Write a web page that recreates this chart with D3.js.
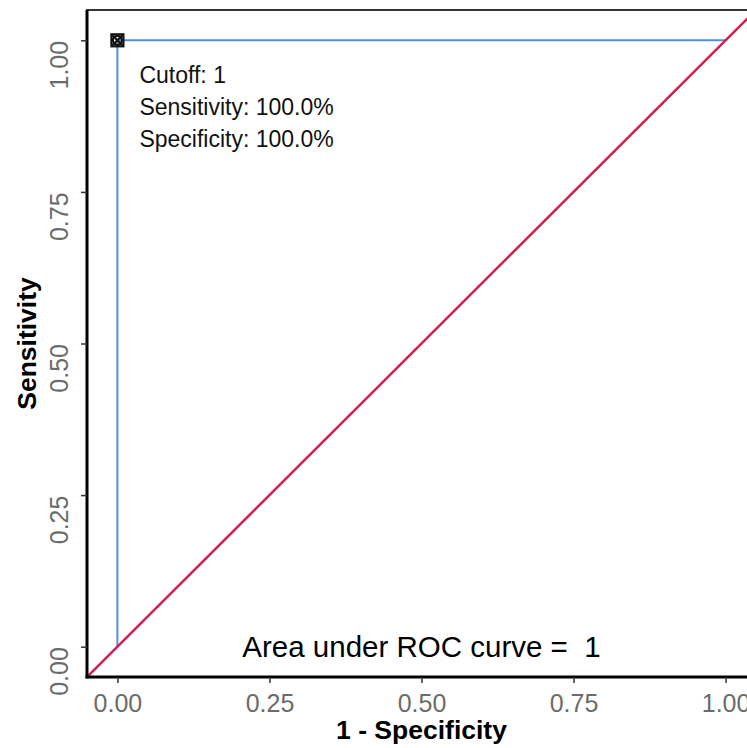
<!DOCTYPE html>
<html>
<head>
<meta charset="utf-8">
<script src="https://cdn.jsdelivr.net/npm/d3@7"></script>
<style>
  body { margin: 0; background: #fff; }
  text { font-family: "Liberation Sans", Arial, sans-serif; white-space: pre; }
  .tickText { fill: #6b6b6b; font-size: 25px; }
  .axisTitle { fill: #000; font-size: 26.5px; font-weight: bold; }
  .annoText { fill: #111; font-size: 23px; }
  .aucText { fill: #000; font-size: 29.5px; }
</style>
</head>
<body>
<div id="chart"></div>
<script>
// Step 1: Data
// ==============================================================================
var rocFpr = [0, 0, 1];          // 1 - Specificity
var rocTpr = [0, 1, 1];          // Sensitivity
var cutoffPoint = [0, 1];        // best cutoff (1 - spec, sens)
var cutoffLabels = ["Cutoff: 1", "Sensitivity: 100.0%", "Specificity: 100.0%"];
var aucLabel = "Area under ROC curve =  1";
var tickValues = [0, 0.25, 0.5, 0.75, 1];
var tickLabels = ["0.00", "0.25", "0.50", "0.75", "1.00"];

// Step 2: Set up chart canvas
// ==============================================================================
var svgWidth = 747;
var svgHeight = 748;

var margin = { top: 10, right: -9, bottom: 71, left: 87 };
var width = svgWidth - margin.left - margin.right;
var height = svgHeight - margin.top - margin.bottom;

var svg = d3.select("#chart")
  .append("svg")
  .attr("width", svgWidth)
  .attr("height", svgHeight);

var chartGroup = svg.append("g")
  .attr("transform", `translate(${margin.left}, ${margin.top})`);

// Step 3: Scales (ggplot style 5% expansion)
// ==============================================================================
var xScale = d3.scaleLinear().domain([-0.05, 1.05]).range([0, width]);
var yScale = d3.scaleLinear().domain([-0.05, 1.05]).range([height, 0]);

chartGroup.append("clipPath").attr("id", "panelClip")
  .append("rect").attr("width", width).attr("height", height);

var panel = chartGroup.append("g").attr("clip-path", "url(#panelClip)");

// Step 4: ROC curve, diagonal and cutoff marker
// ==============================================================================
var line = d3.line().x(d => xScale(d[0])).y(d => yScale(d[1]));

panel.append("path")
  .datum(d3.zip(rocFpr, rocTpr))
  .attr("d", line)
  .attr("fill", "none")
  .attr("stroke", "#4a93df")
  .attr("stroke-width", 2);

panel.append("path")
  .datum([[-0.05, -0.05], [1.05, 1.05]])
  .attr("d", line)
  .attr("fill", "none")
  .attr("stroke", "#d01f50")
  .attr("stroke-width", 2.5);

var marker = panel.append("g")
  .attr("transform", `translate(${xScale(cutoffPoint[0])}, ${yScale(cutoffPoint[1])})`)
  .attr("fill", "none")
  .attr("stroke", "#111")
  .attr("stroke-width", 2.2);
marker.append("rect").attr("x", -6).attr("y", -6).attr("width", 12).attr("height", 12);
marker.append("circle").attr("r", 4.5);
marker.append("path").attr("d", "M-5,-5L5,5M-5,5L5,-5");

// Step 5: Text annotations
// ==============================================================================
chartGroup.selectAll(".annoText")
  .data(cutoffLabels)
  .enter()
  .append("text")
  .attr("class", "annoText")
  .attr("x", xScale(cutoffPoint[0]) + 22)
  .attr("y", (d, i) => yScale(cutoffPoint[1]) + 43 + i * 32)
  .text(d => d);

chartGroup.append("text")
  .attr("class", "aucText")
  .attr("x", xScale(0.5))
  .attr("y", yScale(0) + 10)
  .attr("text-anchor", "middle")
  .text(aucLabel);

// Step 6: Panel border and axes
// ==============================================================================
chartGroup.append("rect")
  .attr("width", width)
  .attr("height", height)
  .attr("fill", "none")
  .attr("stroke", "#333")
  .attr("stroke-width", 2);

chartGroup.append("line")
  .attr("x1", 0).attr("x2", 0).attr("y1", 0).attr("y2", height + 1.5)
  .attr("stroke", "#000").attr("stroke-width", 3);
chartGroup.append("line")
  .attr("x1", -1.5).attr("x2", width).attr("y1", height).attr("y2", height)
  .attr("stroke", "#000").attr("stroke-width", 3);

var bottomAxis = d3.axisBottom(xScale)
  .tickValues(tickValues)
  .tickFormat((d, i) => tickLabels[i])
  .tickSize(6)
  .tickPadding(6);

var leftAxis = d3.axisLeft(yScale)
  .tickValues(tickValues)
  .tickFormat((d, i) => tickLabels[i])
  .tickSize(6)
  .tickPadding(6);

var xAxisG = chartGroup.append("g")
  .attr("transform", `translate(0, ${height})`)
  .call(bottomAxis);
xAxisG.select(".domain").remove();
xAxisG.attr("font-size", null).attr("font-family", null);
xAxisG.selectAll("line").attr("stroke", "#333").attr("stroke-width", 1.5);
xAxisG.selectAll("text")
  .attr("class", "tickText")
  .attr("fill", null)
  .attr("dy", "0.9em");

var yAxisG = chartGroup.append("g").call(leftAxis);
yAxisG.select(".domain").remove();
yAxisG.attr("font-size", null).attr("font-family", null);
yAxisG.selectAll("line").attr("stroke", "#333").attr("stroke-width", 1.5);
yAxisG.selectAll("text")
  .attr("class", "tickText")
  .attr("fill", null)
  .attr("x", null)
  .attr("dy", null)
  .attr("text-anchor", "end")
  .attr("transform", "translate(-19, 0) rotate(-90)");

// Step 7: Axis titles
// ==============================================================================
chartGroup.append("text")
  .attr("class", "axisTitle")
  .attr("transform", `translate(${-51}, ${yScale(0.5)}) rotate(-90)`)
  .attr("text-anchor", "middle")
  .text("Sensitivity");

chartGroup.append("text")
  .attr("class", "axisTitle")
  .attr("x", xScale(0.5))
  .attr("y", height + 62)
  .attr("text-anchor", "middle")
  .text("1 - Specificity");
</script>
</body>
</html>
